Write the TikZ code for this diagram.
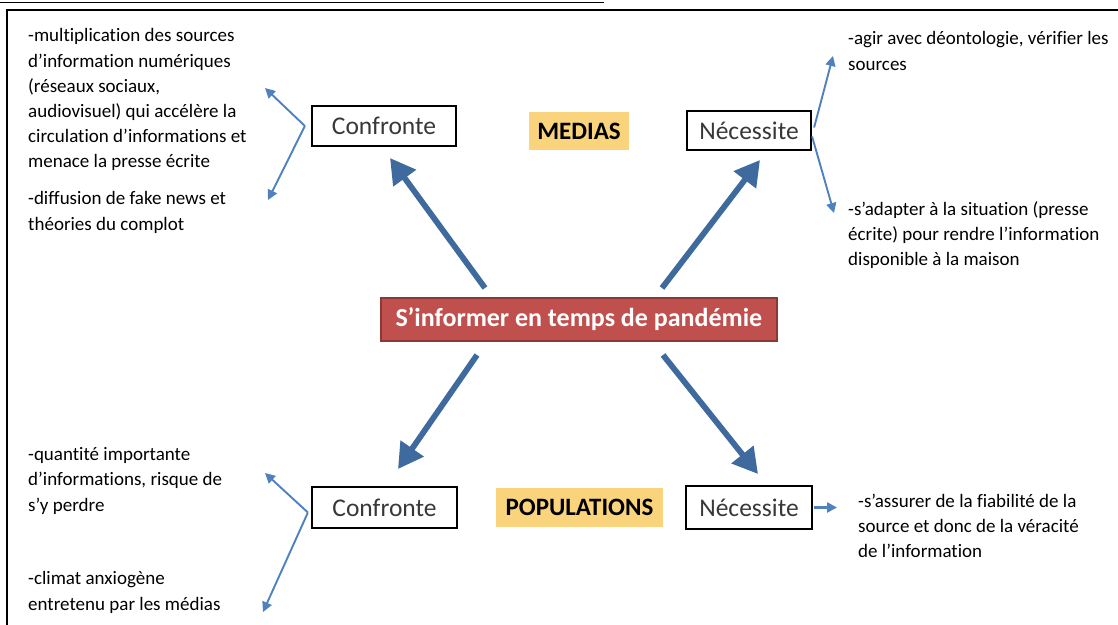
\documentclass[tikz,border=0pt]{standalone}
\usepackage{fontspec}
\setmainfont[Ligatures=NoCommon]{Carlito}
\usetikzlibrary{arrows.meta}

\definecolor{arrowblue}{RGB}{62,106,158}
\definecolor{thinblue}{RGB}{79,129,189}
\definecolor{boxred}{RGB}{192,80,77}
\definecolor{boxredline}{RGB}{140,56,54}
\definecolor{labelgold}{RGB}{250,212,125}

\tikzset{
  keybox/.style={draw=black, line width=2.2pt, fill=white, text=black!78,
    font=\fontsize{25.5}{28}\selectfont, inner sep=0pt},
  goldlabel/.style={fill=labelgold, font=\bfseries\fontsize{25}{28}\selectfont,
    inner sep=0pt},
  centrebox/.style={draw=boxredline, line width=2pt, fill=boxred, text=white,
    font=\bfseries\fontsize{26}{28}\selectfont, inner sep=0pt,
    minimum width=396pt, minimum height=43pt},
  notes/.style={align=left, inner sep=0pt, anchor=north west,
    font=\fontsize{19}{25.2}\selectfont},
  bigarrow/.style={draw=arrowblue, line width=5.8pt,
    -{Triangle[width=27pt,length=25pt]}},
  smallarrow/.style={draw=thinblue, line width=1.9pt,
    -{Triangle[width=10pt,length=10pt]}}
}

\begin{document}
\begin{tikzpicture}[x=1pt,y=1pt]

    \useasboundingbox (0,0) rectangle (1118,-624);
    \clip (0,0) rectangle (1118,-624);

    % page rules
    \draw[line width=1.2pt] (0,-2.5) -- (604,-2.5);
    \draw[line width=2pt] (6.5,-640) -- (6.5,-9.5) -- (1130,-9.5);

    % centre and boxes
    \node[centrebox] (centre) at (579,-319.5) {S’informer en temps de pandémie};
    \node[keybox, minimum width=144pt, minimum height=40pt] (conf1) at (384,-126) {Confronte};
    \node[keybox, minimum width=124pt, minimum height=39pt] (nec1) at (749,-130.5) {Nécessite};
    \node[keybox, minimum width=145pt, minimum height=41pt] (conf2) at (384.5,-507.5) {Confronte};
    \node[keybox, minimum width=126pt, minimum height=43pt] (nec2) at (749,-507.5) {Nécessite};
    \node[goldlabel, minimum width=100pt, minimum height=38pt] (medias) at (579,-131) {MEDIAS};
    \node[goldlabel, minimum width=167pt, minimum height=39pt] (pop) at (579.5,-507.5) {POPULATIONS};

    % notes
    \node[notes] (multi) at (28,-28.5) {-multiplication des sources\\d’information numériques\\(réseaux sociaux,\\audiovisuel) qui accélère la\\circulation d’informations et\\menace la presse écrite};
    \node[notes] (fake) at (28,-191.5) {-diffusion de fake news et\\théories du complot};
    \node[notes] (deonto) at (848,-31.5) {-agir avec déontologie, vérifier les\\sources};
    \node[notes] (adapter) at (848,-201.5) {-s’adapter à la situation (presse\\écrite) pour rendre l’information\\disponible à la maison};
    \node[notes] (quantite) at (28,-447.5) {-quantité importante\\d’informations, risque de\\s’y perdre};
    \node[notes] (climat) at (28,-571.5) {-climat anxiogène\\entretenu par les médias};
    \node[notes] (fiab) at (858,-493.5) {-s’assurer de la fiabilité de la\\source et donc de la véracité\\de l’information};

    % arrow ends
    \coordinate (s1) at ([shift={(-94,9)}]centre.north);
    \coordinate (s2) at ([shift={(83,9)}]centre.north);
    \coordinate (s3) at ([shift={(-102,-13)}]centre.south);
    \coordinate (s4) at ([shift={(84,-13)}]centre.south);
    \coordinate (t1) at (390,-158);
    \coordinate (t2) at (760,-160);
    \coordinate (t3) at (398,-469);
    \coordinate (t4) at (758,-474);
    \coordinate (up1) at (265,-88);
    \coordinate (dn1) at (268,-200);
    \coordinate (up2) at (833,-56);
    \coordinate (dn2) at (834,-213);
    \coordinate (up3) at (265,-473);
    \coordinate (dn3) at (263,-612);
    \coordinate (rt4) at (837,-507.5);

    \draw[bigarrow] (s1) -- (t1);
    \draw[bigarrow] (s2) -- (t2);
    \draw[bigarrow] (s3) -- (t3);
    \draw[bigarrow] (s4) -- (t4);

    \draw[smallarrow] ([xshift=-6pt]conf1.west) -- (up1);
    \draw[smallarrow] ([xshift=-6pt]conf1.west) -- (dn1);
    \draw[smallarrow] ([shift={(2,3)}]nec1.east) -- (up2);
    \draw[smallarrow] ([shift={(0,-6)}]nec1.east) -- (dn2);
    \draw[smallarrow] ([shift={(-3,-5)}]conf2.west) -- (up3);
    \draw[smallarrow] ([shift={(-3,-5)}]conf2.west) -- (dn3);
    \draw[smallarrow, line width=2.4pt] ([xshift=1pt]nec2.east) -- (rt4);

\end{tikzpicture}
\end{document}
